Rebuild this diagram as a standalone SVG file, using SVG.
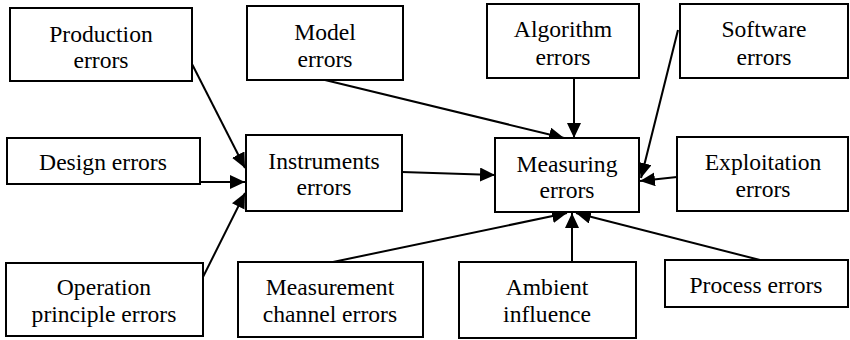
<svg xmlns="http://www.w3.org/2000/svg" width="850" height="340" viewBox="0 0 850 340">
<style>
.box{fill:#fff;stroke:#000;stroke-width:2}
.t{fill:#000;text-anchor:middle}
.c{stroke:#000;stroke-width:2;fill:none;marker-end:url(#ah)}
</style>
<defs>
<marker id="ah" markerUnits="userSpaceOnUse" markerWidth="16" markerHeight="14" refX="15" refY="7" orient="auto">
<path d="M0,0 L15,7 L0,14 Z" fill="#000"/>
</marker>
</defs>
<rect width="850" height="340" fill="#fff"/>
<g id="connectors">
<line class="c" x1="192" y1="64" x2="245" y2="168"/>
<line class="c" x1="200" y1="182" x2="245" y2="182"/>
<line class="c" x1="203" y1="277" x2="245" y2="193"/>
<line class="c" x1="402" y1="172" x2="495" y2="175"/>
<line class="c" x1="325" y1="80" x2="564" y2="138"/>
<line class="c" x1="574" y1="79" x2="574" y2="138"/>
<line class="c" x1="678" y1="30" x2="641" y2="178"/>
<line class="c" x1="677" y1="177" x2="640" y2="181"/>
<line class="c" x1="333" y1="262" x2="567" y2="213"/>
<line class="c" x1="572" y1="262" x2="572" y2="213"/>
<line class="c" x1="760" y1="260" x2="576" y2="213"/>
</g>
<g id="nodes" font-family="Liberation Serif, Times New Roman, serif" font-size="23.6">
<g id="production"><rect class="box" x="10" y="8" width="182" height="73"/><text class="t" x="101" y="42">Production</text><text class="t" x="101" y="68">errors</text></g>
<g id="model"><rect class="box" x="247" y="6" width="156" height="74"/><text class="t" x="325" y="40">Model</text><text class="t" x="325" y="67">errors</text></g>
<g id="algorithm"><rect class="box" x="487" y="4" width="152" height="74"/><text class="t" x="563" y="37">Algorithm</text><text class="t" x="563" y="65">errors</text></g>
<g id="software"><rect class="box" x="680" y="4" width="168" height="74"/><text class="t" x="764" y="37">Software</text><text class="t" x="764" y="65">errors</text></g>
<g id="design"><rect class="box" x="7" y="138" width="193" height="46"/><text class="t" x="103" y="170">Design errors</text></g>
<g id="instruments"><rect class="box" x="246" y="135" width="156" height="76"/><text class="t" x="324" y="169">Instruments</text><text class="t" x="324" y="195">errors</text></g>
<g id="measuring"><rect class="box" x="495" y="138" width="144" height="74"/><text class="t" x="567" y="172">Measuring</text><text class="t" x="567" y="198">errors</text></g>
<g id="exploitation"><rect class="box" x="677" y="137" width="171" height="74"/><text class="t" x="763" y="170">Exploitation</text><text class="t" x="763" y="197">errors</text></g>
<g id="operation"><rect class="box" x="6" y="263" width="197" height="73"/><text class="t" x="104" y="295">Operation</text><text class="t" x="104" y="322">principle errors</text></g>
<g id="channel"><rect class="box" x="238" y="262" width="185" height="75"/><text class="t" x="330" y="295">Measurement</text><text class="t" x="330" y="322">channel errors</text></g>
<g id="ambient"><rect class="box" x="459" y="262" width="177" height="76"/><text class="t" x="547" y="295">Ambient</text><text class="t" x="547" y="322">influence</text></g>
<g id="process"><rect class="box" x="665" y="260" width="183" height="47"/><text class="t" x="756" y="293">Process errors</text></g>
</g>
</svg>
